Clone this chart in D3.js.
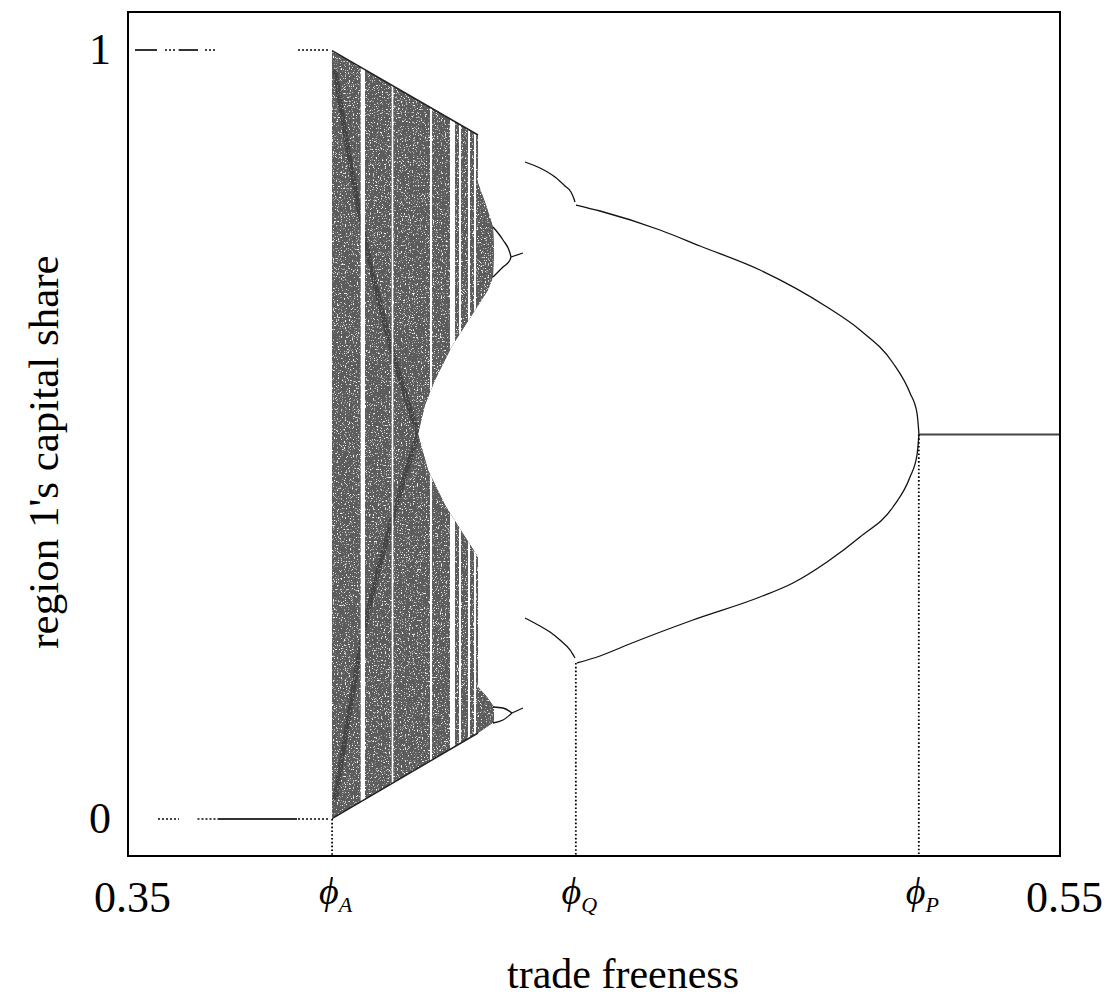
<!DOCTYPE html>
<html><head><meta charset="utf-8">
<script src="https://cdn.jsdelivr.net/npm/d3@7"></script>
<style>
body{margin:0;background:#fff;}
svg{display:block;}
text{font-family:"Liberation Serif","Times New Roman",serif;}
</style></head><body>
<svg id="chart" width="1115" height="1001"></svg>
<script>
// ================= DATA =================
const xDomain = [0.35, 0.55];
const phiA = 0.3938, phiQ = 0.4461, phiP = 0.5197;
const xTickValues = [0.35, phiA, phiQ, phiP, 0.55];
const xTickLabels = ["0.35", "ϕ_A", "ϕ_Q", "ϕ_P", "0.55"];
const yTickValues = [0, 1];
const yTickLabels = ["0", "1"];
const xTitle = "trade freeness";
const yTitle = "region 1's capital share";

// stable agglomeration at 1 / 0 before phiA: [y, x0, x1]
const edgeSolid = [
  [1, 0.35150, 0.35622], [1, 0.36086, 0.36502],
  [0, 0.36931, 0.38627]
];
const edgeDotted = [
  [1, 0.35794, 0.36009], [1, 0.36652, 0.36888], [1, 0.38648, 0.39335],
  [0, 0.35644, 0.36094], [0, 0.36491, 0.36931], [0, 0.38648, 0.39335]
];

// outline of the chaotic attractor region [x, y]
const chaosOutline = [
  [0.39378,0.99909],[0.42511,0.88947],[0.42511,0.82705],[0.42682,0.79844],
  [0.42833,0.76983],[0.42854,0.73992],[0.42833,0.70481],[0.42725,0.68791],
  [0.42339,0.65150],[0.41953,0.61508],[0.41588,0.57087],[0.41373,0.53836],
  [0.41223,0.50065],[0.41438,0.45384],[0.41803,0.40832],[0.42167,0.37321],
  [0.42511,0.34070],[0.42511,0.17165],[0.42704,0.15865],[0.42854,0.14564],
  [0.42854,0.12614],[0.42511,0.11183],[0.39378,0.00039]
];
// periodic windows inside the chaotic band [x0, x1]
const periodicWindows = [
  [0.39994,0.40086],[0.40659,0.40693],[0.41481,0.41524],[0.41910,0.42017],
  [0.42103,0.42146],[0.42296,0.42339],[0.42425,0.42468]
];
// darker crossing bands inside the chaotic band
const bandUpper = [[0.39442,0.97399],[0.39721,0.86996],[0.40021,0.77243],[0.40665,0.60988],[0.41223,0.50065]];
const bandLower = [[0.39442,0.02471],[0.39721,0.12874],[0.40021,0.23277],[0.40665,0.38882],[0.41223,0.50065]];

// period-doubling eyes at the right of the chaotic band
const eyeUpperA = [[0.42833,0.76983],[0.43047,0.75293],[0.43197,0.73602],[0.43219,0.73082]];
const eyeUpperB = [[0.42833,0.70481],[0.43047,0.71782],[0.43197,0.72692],[0.43219,0.73082]];
const eyeUpperTail = [[0.43219,0.73082],[0.43476,0.73602]];
const eyeLowerA = [[0.42833,0.14564],[0.43047,0.14434],[0.43240,0.13784]];
const eyeLowerB = [[0.42833,0.12484],[0.43047,0.12874],[0.43240,0.13784]];
const eyeLowerTail = [[0.43240,0.13784],[0.43476,0.14434]];

// 2-cycle branches before phiQ
const qUpper = [[0.43519,0.85436],[0.43841,0.84655],[0.44163,0.83485],[0.44378,0.82315],[0.44506,0.81534],[0.44571,0.80624],[0.44592,0.80234]];
const qLower = [[0.43519,0.26138],[0.43841,0.25098],[0.44056,0.24317],[0.44270,0.23277],[0.44485,0.21977],[0.44592,0.20936]];

// 2-cycle branches between phiQ and phiP
const pUpper = [[0.44614,0.79844],[0.45129,0.79064],[0.46416,0.76593],[0.47275,0.74512],[0.48562,0.71391],[0.5,0.66580],[0.50708,0.63589],[0.51416,0.59298],[0.51781,0.55397],[0.51931,0.52796],[0.51974,0.5]];
const pLower = [[0.44635,0.20286],[0.45129,0.21196],[0.45708,0.22627],[0.47124,0.25878],[0.48562,0.28869],[0.49270,0.30689],[0.5,0.33420],[0.50708,0.36671],[0.51416,0.40572],[0.51781,0.44473],[0.51931,0.47334],[0.51974,0.5]];

// symmetric equilibrium after phiP
const symmetric = [[phiP,0.5],[0.55,0.5]];

// dotted guide lines: [x, yFrom]
const guides = [[phiA,0],[phiQ,0.20286],[phiP,0.5]];

// ================= DRAWING =================
const frame = {left:128, right:1060, top:12, bottom:856};
const svg = d3.select("#chart");
const x = d3.scaleLinear().domain(xDomain).range([frame.left, frame.right]);
const y = d3.scaleLinear().domain([0,1]).range([819, 50]);

const defs = svg.append("defs");
const f = defs.append("filter").attr("id","speckle").attr("x",0).attr("y",0).attr("width","100%").attr("height","100%");
f.append("feTurbulence").attr("type","fractalNoise").attr("baseFrequency",0.75).attr("numOctaves",2).attr("seed",4).attr("result","noise");
f.append("feColorMatrix").attr("in","noise").attr("type","matrix")
  .attr("values","0 0 0 0 1  0 0 0 0 1  0 0 0 0 1  6 0 0 0 -3.6").attr("result","spots");
f.append("feComposite").attr("in","spots").attr("in2","SourceGraphic").attr("operator","atop").attr("result","sp");
f.append("feMerge").call(m=>{m.append("feMergeNode").attr("in","SourceGraphic");m.append("feMergeNode").attr("in","sp");});

const lineLin = d3.line().x(d=>x(d[0])).y(d=>y(d[1]));
const lineSm = d3.line().x(d=>x(d[0])).y(d=>y(d[1])).curve(d3.curveMonotoneX);

defs.append("clipPath").attr("id","chaosClip").append("path").attr("d", lineLin(chaosOutline)+"Z");

const chaos = svg.append("g");
chaos.append("path").attr("d", lineLin(chaosOutline)+"Z").attr("fill","#5c5c5c").attr("filter","url(#speckle)");
const inner = chaos.append("g").attr("clip-path","url(#chaosClip)");
[bandUpper, bandLower].forEach(b=>inner.append("path").attr("d",lineSm(b)).attr("fill","none")
  .attr("stroke","#222").attr("stroke-opacity",0.4).attr("stroke-width",5));
inner.selectAll("rect.win").data(periodicWindows).join("rect").attr("class","win")
  .attr("x",d=>x(d[0])).attr("width",d=>x(d[1])-x(d[0]))
  .attr("y",0).attr("height",1001).attr("fill","#fff");
// crisp envelope edges
chaos.append("path").attr("d", lineLin([chaosOutline[0],chaosOutline[1]])).attr("stroke","#222").attr("stroke-width",1.5).attr("fill","none");
chaos.append("path").attr("d", lineLin([chaosOutline[21],chaosOutline[22]])).attr("stroke","#222").attr("stroke-width",1.5).attr("fill","none");

// stable edge lines
svg.append("g").selectAll("line").data(edgeSolid).join("line")
  .attr("x1",d=>x(d[1])).attr("x2",d=>x(d[2])).attr("y1",d=>y(d[0])).attr("y2",d=>y(d[0]))
  .attr("stroke","#333").attr("stroke-width",2);
svg.append("g").selectAll("line").data(edgeDotted).join("line")
  .attr("x1",d=>x(d[1])).attr("x2",d=>x(d[2])).attr("y1",d=>y(d[0])).attr("y2",d=>y(d[0]))
  .attr("stroke","#444").attr("stroke-width",2).attr("stroke-dasharray","2,2");

// branches
const branches = [eyeUpperA, eyeUpperB, eyeUpperTail, eyeLowerA, eyeLowerB, eyeLowerTail, qUpper, qLower, pUpper, pLower];
svg.append("g").selectAll("path").data(branches).join("path")
  .attr("d", d=>lineSm(d)).attr("fill","none").attr("stroke","#111").attr("stroke-width",1.3);
svg.append("path").attr("d", lineLin(symmetric)).attr("stroke","#444").attr("stroke-width",2.2).attr("fill","none");

// dotted guides
svg.append("g").selectAll("line").data(guides).join("line")
  .attr("x1",d=>x(d[0])).attr("x2",d=>x(d[0])).attr("y1",d=>y(d[1])).attr("y2",frame.bottom)
  .attr("stroke","#000").attr("stroke-width",1.8).attr("stroke-dasharray","1.6,2.2");

// frame
svg.append("rect").attr("x",frame.left).attr("y",frame.top)
  .attr("width",frame.right-frame.left).attr("height",frame.bottom-frame.top)
  .attr("fill","none").attr("stroke","#000").attr("stroke-width",2);

// x axis
const gx = svg.append("g").attr("transform",`translate(0,${frame.bottom})`)
  .call(d3.axisBottom(x).tickValues(xTickValues).tickSize(0));
gx.attr("font-size",null).attr("font-family",null);
gx.select(".domain").remove();
gx.selectAll(".tick text").each(function(d,i){
  const t = d3.select(this).text(null).attr("dy",null).attr("fill","#000");
  const lab = xTickLabels[i];
  if (lab.includes("_")) {
    const [m, s] = lab.split("_");
    t.attr("y",48).attr("dx",3);
    t.append("tspan").attr("font-style","italic").attr("font-size",38).text(m);
    t.append("tspan").attr("font-style","italic").attr("font-size",22).attr("dy",8).text(s);
  } else {
    t.attr("y",56).attr("font-size",44).attr("dx",4).text(lab);
  }
});

// y axis
const gy = svg.append("g").attr("transform",`translate(${frame.left},0)`)
  .call(d3.axisLeft(y).tickValues(yTickValues).tickSize(0).tickFormat((d,i)=>yTickLabels[i]));
gy.attr("font-size",null).attr("font-family",null);
gy.select(".domain").remove();
gy.selectAll(".tick text").attr("x",-28).attr("dy","0.3em").attr("text-anchor","middle")
  .attr("font-size",44).attr("fill","#000");

// titles
svg.append("text").attr("x",623).attr("y",988).attr("text-anchor","middle")
  .attr("font-size",42).text(xTitle);
svg.append("text").attr("transform","translate(58,452) rotate(-90)").attr("text-anchor","middle")
  .attr("font-size",43).text(yTitle);
</script>
</body></html>
